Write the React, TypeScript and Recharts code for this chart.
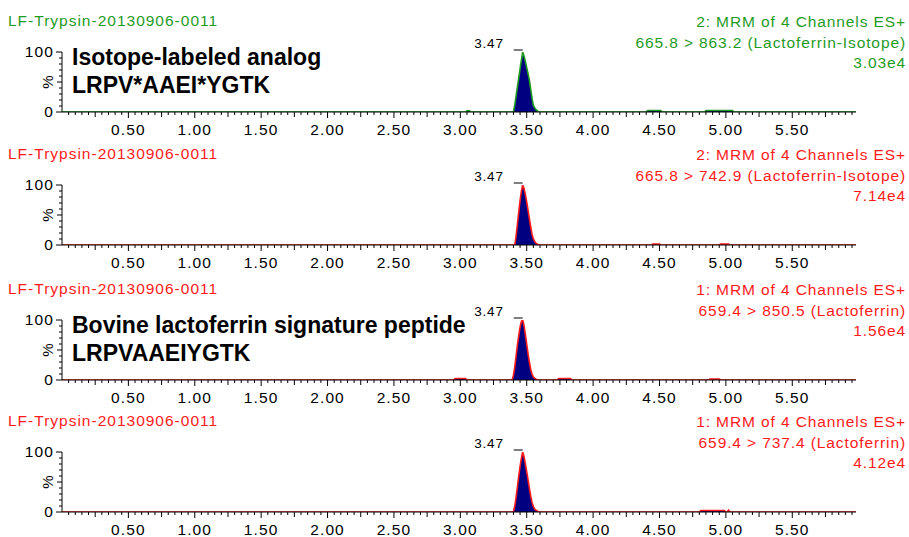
import { ComposedChart, Area, XAxis, YAxis, ReferenceDot } from "recharts";

const FONT = '"Liberation Sans", Arial, sans-serif';
const GREEN = "#1f9b1f";
const RED = "#ff1a1a";
const NAVY = "#000080";

// retention time axis (min)
const xLabelValues = [0.5, 1.0, 1.5, 2.0, 2.5, 3.0, 3.5, 4.0, 4.5, 5.0, 5.5];
const xLabels = ["0.50", "1.00", "1.50", "2.00", "2.50", "3.00", "3.50", "4.00", "4.50", "5.00", "5.50"];
const yLabelValues = [0, 100];
const yLabels = ["0", "100"];
const yTicks = [0, 10, 20, 30, 40, 50, 60, 70, 80, 90, 100];
const xTicks: number[] = [];
for (let i = 1; i < 120; i++) xTicks.push(Math.round(i * 5) / 100);

const apexTime = 3.47;
const apexLabel = "3.47";

// trace 1: 665.8 > 863.2
const times1 = [0, 3.04, 3.05, 3.07, 3.08, 3.4, 3.41, 3.42, 3.43, 3.44, 3.45, 3.46, 3.47, 3.48, 3.49, 3.5, 3.51, 3.52, 3.53, 3.54, 3.55, 3.56, 3.57, 3.58, 3.59, 4.4, 4.41, 4.51, 4.52, 4.84, 4.85, 5.05, 5.06, 5.98];
const values1 = [0, 0, 2, 2, 0, 0, 12, 27, 42, 57, 72, 87, 100, 93, 84, 74, 64, 53, 38, 23, 11, 7, 4, 2, 0, 0, 2.5, 2.5, 0, 0, 2.5, 2.5, 0, 0];

// trace 2: 665.8 > 742.9
const times2 = [0, 3.41, 3.42, 3.43, 3.44, 3.45, 3.46, 3.47, 3.48, 3.49, 3.5, 3.51, 3.52, 3.53, 3.54, 3.55, 3.56, 3.57, 3.58, 3.59, 4.44, 4.45, 4.5, 4.51, 4.95, 4.96, 5.02, 5.03, 5.98];
const values2 = [0, 0, 15, 35, 55, 74, 90, 100, 94, 84, 72, 58, 44, 30, 18, 10, 6, 3, 1.5, 0, 0, 1.5, 1.5, 0, 0, 1.5, 1.5, 0, 0];

// trace 3: 659.4 > 850.5
const times3 = [0, 2.95, 2.96, 3.04, 3.05, 3.39, 3.4, 3.41, 3.42, 3.43, 3.44, 3.45, 3.46, 3.47, 3.48, 3.49, 3.5, 3.51, 3.52, 3.53, 3.54, 3.55, 3.56, 3.57, 3.58, 3.73, 3.74, 3.83, 3.84, 4.87, 4.88, 4.95, 4.96, 5.98];
const values3 = [0, 0, 2.5, 2.5, 0, 0, 8, 22, 40, 58, 74, 88, 98, 100, 90, 76, 60, 44, 30, 18, 10, 5, 3, 1.5, 0, 0, 2.5, 2.5, 0, 0, 1.5, 1.5, 0, 0];

// trace 4: 659.4 > 737.4
const times4 = [0, 3.4, 3.41, 3.42, 3.43, 3.44, 3.45, 3.46, 3.47, 3.48, 3.49, 3.5, 3.51, 3.52, 3.53, 3.54, 3.55, 3.56, 3.57, 3.58, 3.59, 4.8, 4.81, 4.99, 5.0, 5.01, 5.02, 5.03, 5.98];
const values4 = [0, 0, 10, 25, 42, 60, 76, 90, 100, 92, 80, 67, 54, 40, 27, 16, 9, 5, 3, 1.5, 0, 0, 2.5, 2.5, 0, 0, 3, 0, 0];

const sampleName = "LF-Trypsin-20130906-0011";

const panels = [
  {
    top: 0,
    color: GREEN,
    times: times1,
    values: values1,
    header: ["2: MRM of 4 Channels ES+", "665.8 > 863.2 (Lactoferrin-Isotope)", "3.03e4"],
    note: ["Isotope-labeled analog", "LRPV*AAEI*YGTK"],
  },
  {
    top: 133,
    color: RED,
    times: times2,
    values: values2,
    header: ["2: MRM of 4 Channels ES+", "665.8 > 742.9 (Lactoferrin-Isotope)", "7.14e4"],
    note: null,
  },
  {
    top: 268,
    color: RED,
    times: times3,
    values: values3,
    header: ["1: MRM of 4 Channels ES+", "659.4 > 850.5 (Lactoferrin)", "1.56e4"],
    note: ["Bovine lactoferrin signature peptide", "LRPVAAEIYGTK"],
  },
  {
    top: 400,
    color: RED,
    times: times4,
    values: values4,
    header: ["1: MRM of 4 Channels ES+", "659.4 > 737.4 (Lactoferrin)", "4.12e4"],
    note: null,
  },
];

const XTick = (props: any) => {
  const { x, y, payload } = props;
  const v = payload.value;
  const k = Math.round(v * 100);
  const major = k % 50 === 0;
  const len = major ? 6 : k % 25 === 0 ? 5 : 3;
  const idx = xLabelValues.findIndex((l) => Math.abs(l - v) < 1e-6);
  return (
    <g>
      <line x1={x} x2={x} y1={y} y2={y + len} stroke="#000" />
      {idx >= 0 && (
        <text x={x} y={y + 23} textAnchor="middle" fontSize={15.5} letterSpacing={1.1} fontFamily={FONT} fill="#000">
          {xLabels[idx]}
        </text>
      )}
    </g>
  );
};

const YTick = (props: any) => {
  const { x, y, payload } = props;
  const v = payload.value;
  const len = v === 0 || v === 100 ? 6 : v === 50 ? 5 : 3;
  const idx = yLabelValues.indexOf(v);
  return (
    <g>
      <line x1={x - len} x2={x} y1={y} y2={y} stroke="#000" />
      {idx >= 0 && (
        <text x={x - 8} y={y + 5} textAnchor="end" fontSize={15.5} letterSpacing={1.1} fontFamily={FONT} fill="#000">
          {yLabels[idx]}
        </text>
      )}
      {v === 50 && (
        <text
          x={x - 15}
          y={y}
          textAnchor="middle"
          fontSize={15}
          fontFamily={FONT}
          fill="#000"
          transform={`rotate(-90 ${x - 15} ${y})`}
          dominantBaseline="central"
        >
          %
        </text>
      )}
    </g>
  );
};

const PeakMark = (props: any) => {
  const { cx, cy } = props;
  if (cx == null || cy == null) return null;
  return (
    <g>
      <line x1={cx - 9} x2={cx} y1={cy - 2} y2={cy - 2} stroke="#000" />
      <text x={cx - 19} y={cy - 4} textAnchor="end" fontSize={13.5} letterSpacing={0.8} fontFamily={FONT} fill="#000">
        {apexLabel}
      </text>
    </g>
  );
};

function Panel({ p }: { p: (typeof panels)[number] }) {
  const data = p.times.map((t, i) => ({ t, v: p.values[i] }));
  return (
    <div style={{ position: "absolute", left: 0, top: p.top, width: 909, height: 142 }}>
      <ComposedChart width={909} height={142} data={data} margin={{ top: 52, right: 53, bottom: 0, left: 0 }}>
        <XAxis
          dataKey="t"
          type="number"
          domain={[0, 5.98]}
          ticks={xTicks}
          interval={0}
          tick={(tp: any) => <XTick {...tp} />}
          tickLine={false}
          tickSize={0}
          tickMargin={0}
          height={30}
          axisLine={{ stroke: "#000" }}
          allowDataOverflow
        />
        <YAxis
          type="number"
          domain={[0, 100]}
          ticks={yTicks}
          interval={0}
          tick={(tp: any) => <YTick {...tp} />}
          tickLine={false}
          tickSize={0}
          tickMargin={0}
          width={62}
          axisLine={{ stroke: "#000" }}
          allowDataOverflow
        />
        <Area
          type="linear"
          dataKey="v"
          stroke={p.color}
          strokeWidth={1.6}
          fill={NAVY}
          fillOpacity={1}
          dot={false}
          activeDot={false}
          isAnimationActive={false}
        />
        <ReferenceDot x={apexTime} y={100} r={0} shape={(sp: any) => <PeakMark {...sp} />} />
      </ComposedChart>
      <div
        style={{
          position: "absolute",
          left: 8,
          top: 12,
          fontSize: 15.5,
          lineHeight: "17px",
          letterSpacing: 1,
          color: p.color,
          whiteSpace: "nowrap",
        }}
      >
        {sampleName}
      </div>
      <div
        style={{
          position: "absolute",
          right: 3,
          top: 12,
          fontSize: 15.5,
          lineHeight: "20.5px",
          letterSpacing: 0.9,
          color: p.color,
          textAlign: "right",
          whiteSpace: "nowrap",
        }}
      >
        {p.header.map((h) => (
          <div key={h}>{h}</div>
        ))}
      </div>
      {p.note && (
        <div
          style={{
            position: "absolute",
            left: 72,
            top: 43,
            fontSize: 23,
            fontWeight: "bold",
            lineHeight: "28px",
            color: "#000",
            whiteSpace: "nowrap",
          }}
        >
          <div>{p.note[0]}</div>
          <div>{p.note[1]}</div>
        </div>
      )}
    </div>
  );
}

export default function App() {
  return (
    <div
      style={{
        position: "absolute",
        left: 0,
        top: 0,
        width: 909,
        height: 537,
        background: "#fff",
        fontFamily: FONT,
        overflow: "hidden",
      }}
    >
      {panels.map((p, i) => (
        <Panel key={i} p={p} />
      ))}
    </div>
  );
}
